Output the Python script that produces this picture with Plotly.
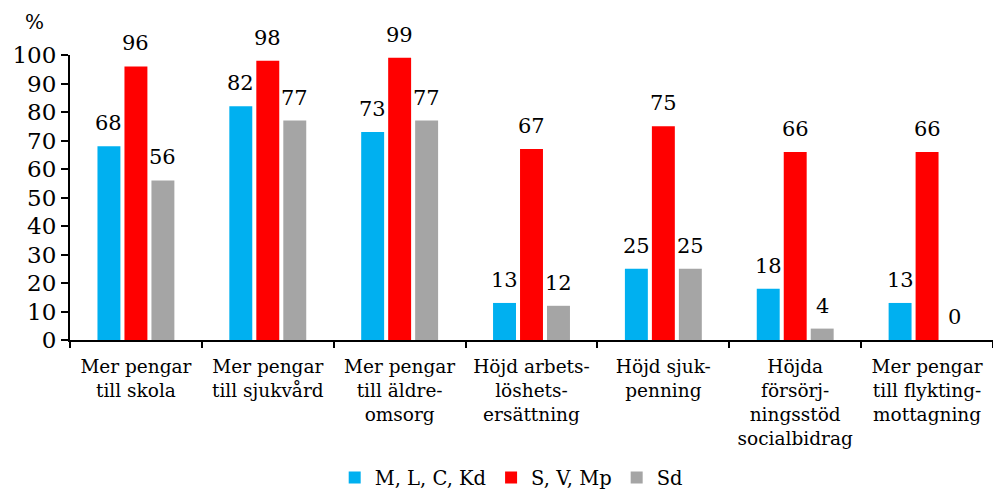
import plotly.graph_objects as go

categories = [
    "Mer pengar<br>till skola",
    "Mer pengar<br>till sjukvård",
    "Mer pengar<br>till äldre-<br>omsorg",
    "Höjd arbets-<br>löshets-<br>ersättning",
    "Höjd sjuk-<br>penning",
    "Höjda<br>försörj-<br>ningsstöd<br>socialbidrag",
    "Mer pengar<br>till flykting-<br>mottagning",
]
series_names = ["M, L, C, Kd", "S, V, Mp", "Sd"]
mlckd = [68, 82, 73, 13, 25, 18, 13]
svmp = [96, 98, 99, 67, 75, 66, 66]
sd = [56, 77, 77, 12, 25, 4, 0]
colors = ["#00B0F0", "#FF0000", "#A5A5A5"]
y_ticks = list(range(0, 101, 10))

FONT = "DejaVu Serif"
series = [mlckd, svmp, sd]
bargap = 0.386

fig = go.Figure()
for name, vals, col in zip(series_names, series, colors):
    fig.add_trace(go.Bar(x=categories, y=vals, name=name, marker_color=col,
                         marker_line_width=0))

slot = (1 - bargap) / 3
for k, vals in enumerate(series):
    for i, v in enumerate(vals):
        fig.add_annotation(x=i + (k - 1) * slot, y=v, xref="x", yref="y",
                           text=str(v), showarrow=False, yanchor="bottom",
                           yshift=9, font=dict(family=FONT, size=21, color="black"))

fig.add_annotation(x=(34 - 70) / 923, y=(55 - 22) / 285 + 1, xref="paper", yref="paper",
                   text="%", showarrow=False, xanchor="center", yanchor="middle",
                   font=dict(family=FONT, size=20, color="black"))

fig.update_layout(
    width=993, height=493,
    margin=dict(l=70, r=0, t=55, b=153, autoexpand=False),
    plot_bgcolor="white", paper_bgcolor="white",
    barmode="group", bargap=bargap, bargroupgap=0.15,
    font=dict(family=FONT, color="black"),
    legend=dict(orientation="h", x=0.478, xanchor="center", y=-0.484, yanchor="middle",
                font=dict(family=FONT, size=19.5, color="black"), traceorder="normal"),
    xaxis=dict(type="category", tickson="boundaries", ticks="outside", ticklen=6,
               tickcolor="black", tickwidth=2, showline=True, linecolor="black",
               linewidth=2, tickfont=dict(family=FONT, size=18.5, color="black"),
               tickangle=0, showgrid=False, automargin=False, ticklabelstandoff=9),
    yaxis=dict(range=[0, 100], tickvals=y_ticks, ticks="outside", ticklen=7,
               tickcolor="black", tickwidth=2, showline=True, linecolor="black",
               linewidth=2, showgrid=False, zeroline=False, automargin=False,
               tickfont=dict(family=FONT, size=23, color="black")),
)

fig.write_html("out.html", post_script="document.body.style.margin='0';",
               config={"displayModeBar": False})
